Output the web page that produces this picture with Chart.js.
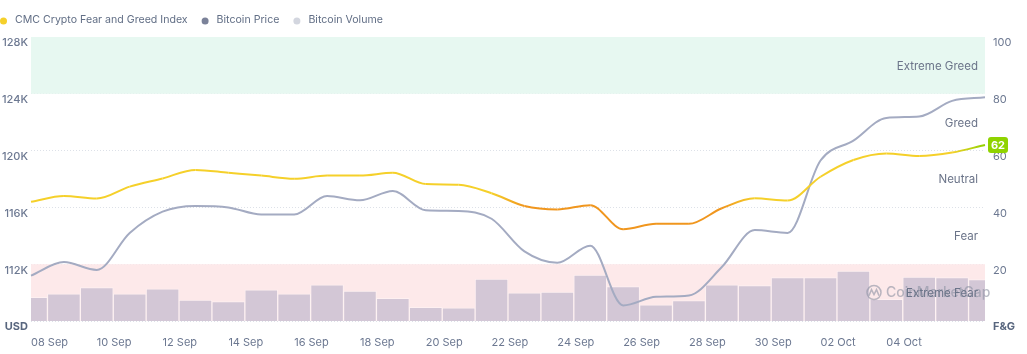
<!DOCTYPE html>
<html>
<head>
<meta charset="utf-8">
<title>CMC Crypto Fear and Greed Index vs Bitcoin</title>
<script src="https://cdn.jsdelivr.net/npm/chart.js@4.4.1/dist/chart.umd.min.js"></script>
<style>
  html, body { margin: 0; padding: 0; background: #fff; }
</style>
</head>
<body>
<canvas id="chart" width="1027" height="354"></canvas>
<script>
// one point per day, 08 Sep -> 07 Oct
var days = ['08 Sep', '09 Sep', '10 Sep', '11 Sep', '12 Sep', '13 Sep', '14 Sep', '15 Sep', '16 Sep', '17 Sep',
            '18 Sep', '19 Sep', '20 Sep', '21 Sep', '22 Sep', '23 Sep', '24 Sep', '25 Sep', '26 Sep', '27 Sep',
            '28 Sep', '29 Sep', '30 Sep', '01 Oct', '02 Oct', '03 Oct', '04 Oct', '05 Oct', '06 Oct', '07 Oct'];

var fearGreed = [42.0, 44.0, 43.1, 47.3, 50.2, 53.2, 52.2, 51.2, 50.1, 51.2,
                 51.2, 52.2, 48.2, 48.0, 45.0, 40.5, 39.3, 40.8, 32.3, 34.2,
                 34.2, 39.7, 43.2, 42.4, 50.8, 56.7, 59.0, 58.1, 59.3, 62];

// thousands of USD
var btcPrice = [111.2, 112.15, 111.6, 114.2, 115.7, 116.1, 116.0, 115.5, 115.5, 116.8,
                116.5, 117.15, 115.8, 115.75, 115.2, 112.9, 112.1, 113.3, 109.1, 109.7,
                109.8, 111.8, 114.4, 114.2, 119.3, 120.7, 122.3, 122.4, 123.5, 123.75];

// billions of USD
var btcVolume = [16.7, 19.2, 23.5, 19.2, 22.7, 14.8, 13.6, 22.0, 19.2, 25.4,
                 21.1, 16.0, 9.6, 9.2, 29.6, 19.9, 20.4, 32.4, 24.2, 11.3,
                 14.3, 25.4, 24.9, 30.5, 30.5, 35.2, 15.3, 31.0, 30.5, 29.1];

var zoneNames = ['Extreme Fear', 'Fear', 'Neutral', 'Greed', 'Extreme Greed'];
var legendNames = ['CMC Crypto Fear and Greed Index', 'Bitcoin Price', 'Bitcoin Volume'];
var legendColors = ['#f5d02a', '#7b8299', '#d3d6df'];

var FONT = 'Inter, "Noto Sans", sans-serif';
Chart.defaults.font.family = FONT;

function fgClassColor(v) {
  if (v < 41) return '#f0961e';
  if (v > 60) return '#8fd300';
  return '#f5d02a';
}

// each segment fades from the colour of its start point to that of its end point
function fgSegmentColor(c) {
  var g = c.chart.ctx.createLinearGradient(c.p0.x, 0, c.p1.x, 0);
  g.addColorStop(0, fgClassColor(fearGreed[c.p0DataIndex]));
  g.addColorStop(1, fgClassColor(fearGreed[c.p1DataIndex]));
  return g;
}

var extras = {
  id: 'extras',
  beforeDatasetsDraw: function (chart) {
    var ctx = chart.ctx, a = chart.chartArea, s = chart.scales.yFG;
    ctx.save();
    ctx.fillStyle = '#fde9ea';
    ctx.fillRect(a.left, s.getPixelForValue(20), a.right - a.left, s.getPixelForValue(0) - s.getPixelForValue(20));
    ctx.fillStyle = '#e7f8f1';
    ctx.fillRect(a.left, s.getPixelForValue(100), a.right - a.left, s.getPixelForValue(80) - s.getPixelForValue(100));
    ctx.restore();
  },
  afterDatasetsDraw: function (chart) {
    var ctx = chart.ctx, a = chart.chartArea, s = chart.scales.yFG;
    ctx.save();
    // watermark
    var wy = s.getPixelForValue(10);
    ctx.strokeStyle = 'rgba(140,145,162,0.6)';
    ctx.lineWidth = 1.5;
    ctx.beginPath();
    ctx.arc(874, wy, 7, 0, Math.PI * 2);
    ctx.stroke();
    ctx.beginPath();
    ctx.moveTo(869, wy + 3);
    ctx.lineTo(871.5, wy - 3);
    ctx.lineTo(874, wy + 2);
    ctx.lineTo(876.5, wy - 3);
    ctx.lineTo(879, wy + 3);
    ctx.stroke();
    ctx.fillStyle = 'rgba(140,145,162,0.6)';
    ctx.font = '500 14px ' + FONT;
    ctx.textAlign = 'left';
    ctx.textBaseline = 'middle';
    ctx.fillText('CoinMarketCap', 886, wy);
    // zone names
    ctx.fillStyle = '#6b7489';
    ctx.font = '11.5px ' + FONT;
    ctx.textAlign = 'right';
    for (var i = 0; i < zoneNames.length; i++) {
      ctx.fillText(zoneNames[i], a.right - 7, s.getPixelForValue(10 + 20 * i) + 1);
    }
    ctx.restore();
  },
  afterDraw: function (chart) {
    var ctx = chart.ctx, s = chart.scales.yFG;
    ctx.save();
    // custom legend
    ctx.font = '10.6px ' + FONT;
    ctx.textBaseline = 'middle';
    ctx.textAlign = 'left';
    var x = 0, y = 20;
    for (var i = 0; i < legendNames.length; i++) {
      ctx.fillStyle = legendColors[i];
      ctx.beginPath();
      ctx.arc(x + 3.5, y + 1, 3.5, 0, Math.PI * 2);
      ctx.fill();
      ctx.fillStyle = '#616e85';
      ctx.fillText(legendNames[i], x + 15, y);
      x += 15 + ctx.measureText(legendNames[i]).width + 14;
    }
    // latest value badge
    var last = fearGreed[fearGreed.length - 1];
    var by = s.getPixelForValue(last);
    ctx.fillStyle = '#8fd300';
    ctx.beginPath();
    ctx.roundRect(988, by - 8, 20, 16, 3);
    ctx.fill();
    ctx.fillStyle = '#fff';
    ctx.font = 'bold 11px ' + FONT;
    ctx.textAlign = 'center';
    ctx.fillText(String(last), 998, by + 0.5);
    ctx.restore();
  }
};

var tickColor = '#6c7891';

new Chart(document.getElementById('chart'), {
  data: {
    labels: days,
    datasets: [
      {
        type: 'bar',
        label: 'Bitcoin Volume',
        data: btcVolume,
        yAxisID: 'yVol',
        backgroundColor: '#d3c7d6',
        borderColor: 'rgba(255,255,255,0.35)',
        borderWidth: 1,
        barPercentage: 1,
        categoryPercentage: 1,
        clip: 0,
        order: 3
      },
      {
        type: 'line',
        label: 'Bitcoin Price',
        data: btcPrice,
        yAxisID: 'yUSD',
        borderColor: '#a4abc2',
        borderWidth: 2,
        pointRadius: 0,
        cubicInterpolationMode: 'monotone',
        order: 2
      },
      {
        type: 'line',
        label: 'CMC Crypto Fear and Greed Index',
        data: fearGreed,
        yAxisID: 'yFG',
        borderColor: '#f5d02a',
        segment: { borderColor: fgSegmentColor },
        borderWidth: 2,
        pointRadius: 0,
        cubicInterpolationMode: 'monotone',
        order: 1
      }
    ]
  },
  options: {
    responsive: false,
    animation: false,
    layout: { padding: { top: 37 } },
    plugins: { legend: { display: false }, tooltip: { enabled: false } },
    scales: {
      x: {
        offset: false,
        grid: { display: false },
        border: { display: false },
        ticks: {
          autoSkip: false,
          maxRotation: 0,
          align: 'start',
          padding: 7,
          color: tickColor,
          font: { size: 11 },
          callback: function (v, i) { return (i % 2 === 0 && i < 28) ? days[i] : ''; }
        },
        afterFit: function (scale) { scale.height = 33; }
      },
      yUSD: {
        position: 'left',
        min: 108,
        max: 128,
        grid: { color: '#dde1e8', drawTicks: false },
        border: { display: false, dash: [1, 2] },
        ticks: {
          stepSize: 4,
          padding: 3,
          labelOffset: 6,
          color: function (c) { return c.tick && c.tick.value === 108 ? '#58667e' : tickColor; },
          font: function (c) { return c.tick && c.tick.value === 108 ? { size: 11, weight: 'bold' } : { size: 11, weight: '500' }; },
          callback: function (v) { return v === 108 ? 'USD' : v + 'K'; }
        },
        afterFit: function (scale) { scale.width = 31; }
      },
      yFG: {
        position: 'right',
        min: 0,
        max: 100,
        grid: { display: false, drawTicks: false },
        border: { display: false },
        ticks: {
          stepSize: 20,
          padding: 8,
          labelOffset: 6,
          color: function (c) { return c.tick && c.tick.value === 0 ? '#58667e' : tickColor; },
          font: function (c) { return c.tick && c.tick.value === 0 ? { size: 11, weight: 'bold' } : { size: 11 }; },
          callback: function (v) { return v === 0 ? 'F&G' : v; }
        },
        afterFit: function (scale) { scale.width = 42; }
      },
      yVol: {
        display: false,
        min: 0,
        max: 200
      }
    }
  },
  plugins: [extras]
});
</script>
</body>
</html>
